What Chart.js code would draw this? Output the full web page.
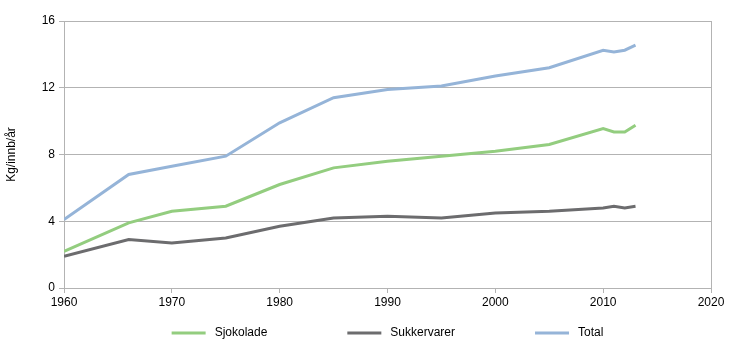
<!DOCTYPE html>
<html>
<head>
<meta charset="utf-8">
<script src="https://cdn.jsdelivr.net/npm/chart.js@4"></script>
<style>
  html, body { margin: 0; padding: 0; background: #fff; }
  #wrap { width: 730px; height: 358px; }
</style>
</head>
<body>
<div id="wrap"><canvas id="chart" width="730" height="358"></canvas></div>
<script>
// Years and series (kg per inhabitant per year)
const years = [1960, 1966, 1970, 1975, 1980, 1985, 1990, 1995, 2000, 2005, 2010, 2011, 2012, 2013];
const sjokolade = [2.2, 3.9, 4.6, 4.9, 6.2, 7.2, 7.6, 7.9, 8.2, 8.6, 9.55, 9.35, 9.35, 9.75];
const sukkervarer = [1.9, 2.9, 2.7, 3.0, 3.7, 4.2, 4.3, 4.2, 4.5, 4.6, 4.8, 4.9, 4.8, 4.9];
const total = [4.1, 6.8, 7.3, 7.9, 9.9, 11.4, 11.9, 12.1, 12.7, 13.2, 14.25, 14.15, 14.25, 14.55];
const seriesNames = ['Sjokolade', 'Sukkervarer', 'Total'];
const seriesColors = ['#93cd7f', '#6c6c6e', '#95b4d8'];

const gridGray = '#b3b3b3';
const fontFamily = 'Liberation Sans, Arial, sans-serif';
const font = { family: fontFamily, size: 12 };

function toPoints(vals) {
  return years.map((y, i) => ({ x: y, y: vals[i] }));
}

const datasets = [sjokolade, sukkervarer, total].map((vals, i) => ({
  label: seriesNames[i],
  data: toPoints(vals),
  borderColor: seriesColors[i],
  backgroundColor: seriesColors[i],
  borderWidth: 3,
  pointRadius: 0,
  tension: 0,
  fill: false
}));

// legend drawn below the axis, Excel style: wide gaps between entries
const bottomLegend = {
  id: 'bottomLegend',
  afterDraw(chart) {
    const c = chart.ctx;
    const area = chart.chartArea;
    const boxW = 34, gapText = 9, gapItem = 80;
    c.save();
    c.font = '12px ' + fontFamily;
    const items = chart.data.datasets.map(ds => ({
      label: ds.label,
      color: ds.borderColor,
      w: boxW + gapText + c.measureText(ds.label).width
    }));
    const totalW = items.reduce((s, it) => s + it.w, 0) + gapItem * (items.length - 1);
    let x = (area.left + area.right) / 2 - totalW / 2;
    const y = area.bottom + 45;
    c.textBaseline = 'middle';
    c.fillStyle = '#000';
    items.forEach(it => {
      c.fillStyle = it.color;
      c.fillRect(x, y - 1.5, boxW, 3);
      c.fillStyle = '#000';
      c.fillText(it.label, x + boxW + gapText, y);
      x += it.w + gapItem;
    });
    c.restore();
  }
};

const ctx = document.getElementById('chart').getContext('2d');
new Chart(ctx, {
  type: 'line',
  data: { datasets },
  options: {
    responsive: false,
    animation: false,
    layout: { padding: { left: 4, right: 19, top: 21, bottom: 44 } },
    scales: {
      x: {
        type: 'linear',
        min: 1960,
        max: 2020,
        ticks: { stepSize: 10, color: '#000', font, padding: 2, callback: v => String(v) },
        grid: {
          drawOnChartArea: true,
          color: c => (c.tick && c.tick.value === 2020) ? gridGray : 'rgba(0,0,0,0)',
          tickColor: gridGray,
          tickLength: 5
        },
        border: { color: gridGray, width: 1 },
        afterFit: s => { s.height = 26; }
      },
      y: {
        min: 0,
        max: 16,
        ticks: { stepSize: 4, color: '#000', font, padding: 4 },
        grid: { color: gridGray, tickColor: gridGray, tickLength: 5 },
        border: { color: gridGray, width: 1 },
        title: { display: true, text: 'Kg/innb/år', color: '#000', font, padding: { top: 0, bottom: 14 } },
        afterFit: s => { s.width = 60; }
      }
    },
    plugins: {
      tooltip: { enabled: false },
      legend: { display: false }
    }
  },
  plugins: [bottomLegend]
});
</script>
</body>
</html>
